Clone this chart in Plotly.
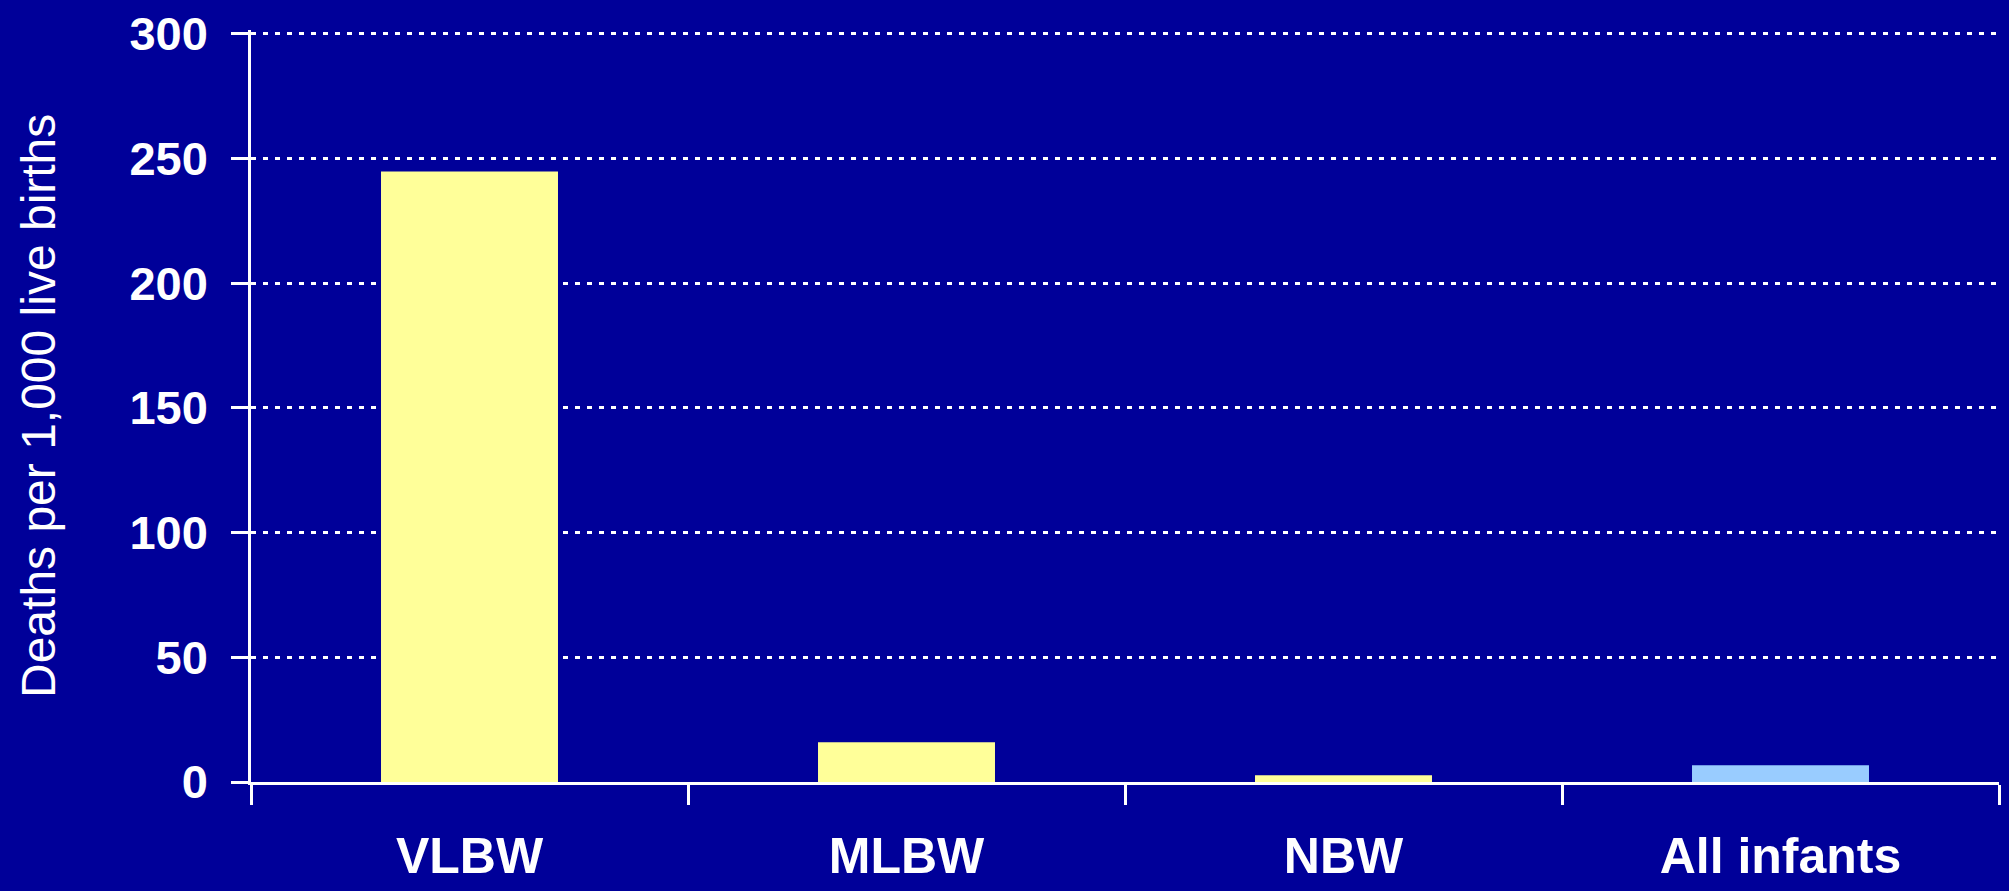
import plotly.graph_objects as go

categories = ["VLBW", "MLBW", "NBW", "All infants"]
deaths_per_1000 = [244.8, 15.9, 2.7, 6.7]
bar_colors = ["#FFFF99", "#FFFF99", "#FFFF99", "#99CCFF"]
y_ticks = [0, 50, 100, 150, 200, 250, 300]
y_title = "Deaths per 1,000 live births"

BG = "#000099"
W, H = 2009, 891
L, R, T, B = 251, 10, 30, 109
Y_MAX = 301.5

fig = go.Figure(
    go.Bar(
        x=categories,
        y=deaths_per_1000,
        marker=dict(color=bar_colors, line=dict(width=0)),
        width=0.405,
        hoverinfo="skip",
    )
)

fig.update_layout(
    width=W,
    height=H,
    paper_bgcolor=BG,
    plot_bgcolor=BG,
    margin=dict(l=L, r=R, t=T, b=B, pad=0, autoexpand=False),
    showlegend=False,
    annotations=[
        dict(
            text=y_title,
            xref="paper",
            yref="paper",
            x=(38 - L) / (W - L - R),
            y=0.5,
            xanchor="center",
            yanchor="middle",
            textangle=-90,
            showarrow=False,
            font=dict(family="Liberation Sans, Arial, sans-serif", size=48, color="white"),
        )
    ],
)

fig.update_xaxes(
    type="category",
    range=[-0.5, 3.5],
    automargin=False,
    showline=True,
    linecolor="white",
    linewidth=2.5,
    ticks="outside",
    tickson="boundaries",
    ticklen=20,
    tickwidth=2.5,
    tickcolor="white",
    showgrid=False,
    tickfont=dict(family="Liberation Sans, Arial", size=50, color="white", weight="bold"),
    ticklabelstandoff=28,
)

fig.update_yaxes(
    range=[0, Y_MAX],
    tickvals=y_ticks,
    automargin=False,
    showline=True,
    linecolor="white",
    linewidth=2.5,
    ticks="outside",
    ticklen=17,
    tickwidth=2.5,
    tickcolor="white",
    showgrid=True,
    gridcolor="white",
    gridwidth=3,
    griddash="5px,7px",
    zeroline=False,
    tickfont=dict(family="Liberation Sans, Arial", size=47, color="white", weight="bold"),
    ticklabelstandoff=14,
)

fig.write_html(
    "out.html",
    config={"displayModeBar": False},
    post_script="document.body.style.margin='0';document.body.style.background='#000099';",
)
